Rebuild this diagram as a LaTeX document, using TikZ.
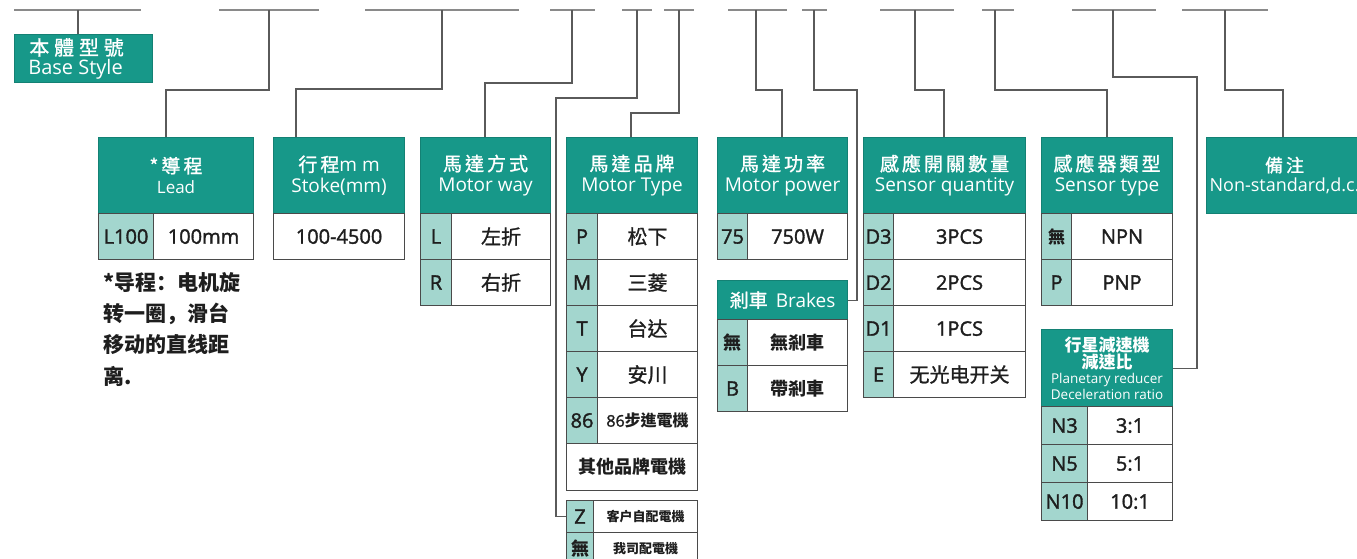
\documentclass[tikz,border=0pt]{standalone}
\usepackage{fontspec}
\setmainfont{Open Sans}
\newfontfamily\rowf[FakeBold=1.6]{Open Sans}
\newfontfamily\cjk{Noto Sans CJK TC}
\newfontfamily\cjkr[FakeBold=1.2]{Noto Sans CJK TC}
\newfontfamily\cjkh[LetterSpace=16,FakeBold=1.2]{Noto Sans CJK TC}
\newfontfamily\cjkb[LetterSpace=24,FakeBold=1.2]{Noto Sans CJK TC}
\newfontfamily\cjksc{Noto Sans CJK SC}
\definecolor{teal1}{HTML}{179889}
\definecolor{light1}{HTML}{A3D6CE}
\definecolor{bord}{HTML}{4A4A4A}
\definecolor{conncol}{HTML}{5A5A5A}
\definecolor{barcol}{HTML}{8A8A8A}
\definecolor{txt}{HTML}{1E1E1E}
\newcommand\hz{\fontsize{19}{21}\selectfont}
\newcommand\rz{\rowf\fontsize{20}{22}\selectfont}
\newcommand\plc{\cjk\bfseries\fontsize{17}{19.5}\selectfont}
\newcommand\pll{\fontsize{13.5}{15.5}\selectfont}
\newcommand\tb[7]{\node[#1, minimum width=#5pt, minimum height=#6pt] (#2) at (#3,#4) {#7};}
\tikzset{
  box/.style={rectangle, inner sep=0pt, anchor=north west, draw=bord, line width=1.1pt, align=center},
  hdr/.style={box, fill=teal1, draw=teal1!85!black, text=white, font=\hz},
  code/.style={box, fill=light1, text=txt, font=\rz},
  val/.style={box, fill=white, text=txt, font=\rz},
  conn/.style={draw=conncol, line width=1.1pt},
  bar/.style={draw=barcol, line width=2pt},
}
\begin{document}
\begin{tikzpicture}[x=1pt,y=-1pt]
\useasboundingbox (0,0) rectangle (1357,559);
% ---------- top bars
\foreach \n/\a/\b/\t in {1/14/141/78,2/219/319/269,3/365/519/442,4/550/595/572,5/622/652/637,6/664/694/679,7/728/787/756,8/802/827/814,9/880/954/915,10/982/1014/995,11/1072/1156/1113,12/1182/1268/1225}{
  \coordinate (ba\n) at (\a,10);
  \coordinate (bb\n) at (\b,10);
  \coordinate (t\n) at (\t,10);
  \draw[bar] (ba\n) -- (bb\n);
}
% ---------- base style
\tb{hdr,font=\fontsize{20}{19}\selectfont}{base}{14}{34}{138}{48}{{\cjkb 本體型號}\hspace*{14pt}\\Base Style\hspace*{16pt}}
% ---------- lead
\tb{hdr}{leadH}{98}{137}{155}{76}{{\cjkh *導\,程}\\{\fontsize{17}{19}\selectfont Lead}}
\tb{code}{leadC1}{98}{213}{55}{46}{L100}
\tb{val}{leadV1}{153}{213}{100}{46}{100mm}
\node[anchor=north west, align=left, text=txt, inner sep=0pt, font=\cjksc\bfseries\fontsize{21}{31.3}\selectfont] (leadNote) at (103,272) {*导程：电机旋\\转一圈，滑台\\移动的直线距\\离.};
% ---------- stroke
\tb{hdr}{strokeH}{273}{137}{131}{76}{{\cjkh 行程}m m\\Stoke(mm)}
\tb{val}{strokeV1}{273}{213}{131}{46}{100-4500}
% ---------- motor way
\tb{hdr}{wayH}{420}{137}{130}{76}{{\cjkh 馬達方式}\\Motor way}
\tb{code}{wayC1}{420}{213}{31}{46}{L}
\tb{val}{wayV1}{451}{213}{99}{46}{\cjkr 左折}
\tb{code}{wayC2}{420}{259}{31}{46}{R}
\tb{val}{wayV2}{451}{259}{99}{46}{\cjkr 右折}
% ---------- motor type
\tb{hdr}{typeH}{566}{137}{131}{76}{{\cjkh 馬達品牌}\\Motor Type}
\tb{code}{typeC1}{566}{213}{31}{46}{P}
\tb{val}{typeV1}{597}{213}{100}{46}{\cjkr 松下}
\tb{code}{typeC2}{566}{259}{31}{46}{M}
\tb{val}{typeV2}{597}{259}{100}{46}{\cjkr 三菱}
\tb{code}{typeC3}{566}{305}{31}{46}{T}
\tb{val}{typeV3}{597}{305}{100}{46}{\cjkr 台达}
\tb{code}{typeC4}{566}{351}{31}{46}{Y}
\tb{val}{typeV4}{597}{351}{100}{46}{\cjkr 安川}
\tb{code}{typeC5}{566}{397}{31}{46}{86}
\tb{val,font=\rowf\fontsize{16}{18}\selectfont}{typeV5}{597}{397}{100}{46}{86{\cjk\bfseries 步進電機}}
\tb{val,font=\cjk\bfseries\fontsize{18}{20}\selectfont}{typeV6}{566}{443}{131}{47}{其他品牌電機}
\tb{code}{zC}{566}{500}{27}{32}{Z}
\tb{val,font=\cjk\bfseries\fontsize{13}{15}\selectfont}{zV}{593}{500}{104}{32}{客户自配電機}
\tb{code,font=\cjk\bfseries\fontsize{18}{20}\selectfont}{wC}{566}{532}{27}{32}{無}
\tb{val,font=\cjk\bfseries\fontsize{13}{15}\selectfont}{wV}{593}{532}{104}{32}{我司配電機}
% ---------- motor power
\tb{hdr}{powerH}{717}{137}{130}{76}{{\cjkh 馬達功率}\\Motor power}
\tb{code}{powerC1}{717}{213}{30}{46}{75}
\tb{val}{powerV1}{747}{213}{100}{46}{750W}
% ---------- brakes
\tb{hdr}{brakeH}{717}{280}{130}{39}{{\cjkr 剎車}\ \,Brakes}
\tb{code,font=\cjk\bfseries\fontsize{18}{20}\selectfont}{brakeC1}{717}{319}{30}{46}{無}
\tb{val,font=\cjk\bfseries\fontsize{18}{20}\selectfont}{brakeV1}{747}{319}{100}{46}{無剎車}
\tb{code}{brakeC2}{717}{365}{30}{46}{B}
\tb{val,font=\cjk\bfseries\fontsize{18}{20}\selectfont}{brakeV2}{747}{365}{100}{46}{帶剎車}
% ---------- sensor quantity
\tb{hdr}{sqH}{863}{137}{162}{76}{{\cjkh 感應開關數量}\\Sensor quantity}
\tb{code}{sqC1}{863}{213}{30}{46}{D3}
\tb{val}{sqV1}{893}{213}{132}{46}{3PCS}
\tb{code}{sqC2}{863}{259}{30}{46}{D2}
\tb{val}{sqV2}{893}{259}{132}{46}{2PCS}
\tb{code}{sqC3}{863}{305}{30}{46}{D1}
\tb{val}{sqV3}{893}{305}{132}{46}{1PCS}
\tb{code}{sqC4}{863}{351}{30}{46}{E}
\tb{val}{sqV4}{893}{351}{132}{46}{\cjkr 无光电开关}
% ---------- sensor type
\tb{hdr}{stH}{1041}{137}{131}{76}{{\cjkh 感應器類型}\\Sensor type}
\tb{code,font=\cjk\bfseries\fontsize{17}{19}\selectfont}{stC1}{1041}{213}{30}{46}{無}
\tb{val}{stV1}{1071}{213}{101}{46}{NPN}
\tb{code}{stC2}{1041}{259}{30}{46}{P}
\tb{val}{stV2}{1071}{259}{101}{46}{PNP}
% ---------- planetary reducer
\tb{hdr,font=\pll}{plH}{1041}{329}{131}{77}{{\plc 行星減速機}\\{\plc 減速比}\\Planetary reducer\\Deceleration ratio}
\tb{code}{plC1}{1041}{406}{46}{38}{N3}
\tb{val}{plV1}{1087}{406}{85}{38}{3:1}
\tb{code}{plC2}{1041}{444}{46}{38}{N5}
\tb{val}{plV2}{1087}{444}{85}{38}{5:1}
\tb{code}{plC3}{1041}{482}{46}{38}{N10}
\tb{val}{plV3}{1087}{482}{85}{38}{10:1}
% ---------- remarks
\tb{hdr,font=\fontsize{18}{20}\selectfont}{noteH}{1206}{137}{156}{76}{{\cjkh 備注}\\Non-standard,d.c.}
% ---------- connectors
\coordinate (k2) at (166,90);
\coordinate (k3) at (296,89);
\coordinate (k4) at (485,83);
\coordinate (k5) at (556,98);
\coordinate (k6) at (631,113);
\coordinate (k7) at (782,90);
\coordinate (k8) at (857,90);
\coordinate (k9) at (944,90);
\coordinate (k10) at (1107,90);
\coordinate (k11) at (1197,77);
\coordinate (k12) at (1283,90);
\draw[conn] (t1) -- (t1 |- base.north);
\draw[conn] (t2) |- (k2) -- (k2 |- leadH.north);
\draw[conn] (t3) |- (k3) -- (k3 |- strokeH.north);
\draw[conn] (t4) |- (k4) -- (k4 |- wayH.north);
\draw[conn] (t5) |- (k5) |- (zC.west);
\draw[conn] (t6) |- (k6) -- (k6 |- typeH.north);
\draw[conn] (t7) |- (k7) -- (k7 |- powerH.north);
\draw[conn] (t8) |- (k8) |- (brakeH.east);
\draw[conn] (t9) |- (k9) -- (k9 |- sqH.north);
\draw[conn] (t10) |- (k10) -- (k10 |- stH.north);
\draw[conn] (t11) |- (k11) |- (plH.east);
\draw[conn] (t12) |- (k12) -- (k12 |- noteH.north);
\end{tikzpicture}
\end{document}
